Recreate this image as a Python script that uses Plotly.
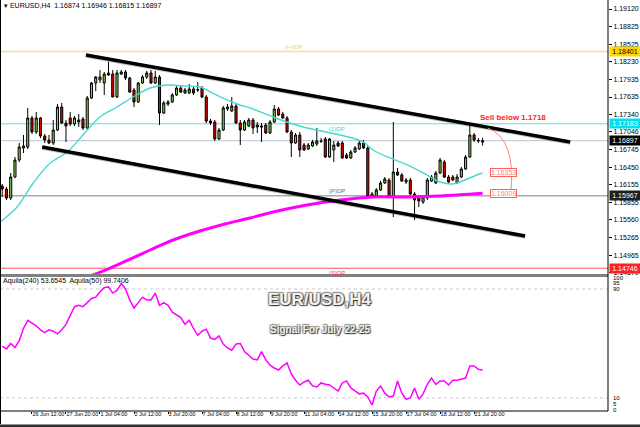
import plotly.graph_objects as go

W, H = 640, 427
def px(x): return x / W
def py(y): return 1 - y / H

# ---------------- data ----------------
bars = list(range(1, 115))
open_ = [1.16133,1.16082,1.15931,1.16285,1.16572,1.16775,1.16791,1.17281,1.17045,1.17281,
 1.16977,1.16910,1.16859,1.17078,1.17466,1.17196,1.17281,1.17180,1.17213,1.17264,
 1.17112,1.17618,1.17871,1.17922,1.17871,1.18040,1.18023,1.17635,1.18023,1.18057,
 1.17956,1.17753,1.17551,1.17871,1.17973,1.18040,1.17871,1.17973,1.17365,1.17517,
 1.17551,1.17669,1.17787,1.17703,1.17703,1.17770,1.17753,1.17787,1.17635,1.17230,
 1.17213,1.16926,1.17078,1.17433,1.17399,1.17483,1.17196,1.17078,1.17146,1.17247,
 1.17163,1.17146,1.17163,1.17028,1.17213,1.17433,1.17348,1.17281,1.17045,1.16859,
 1.16994,1.16825,1.16758,1.16808,1.16842,1.16893,1.16926,1.16623,1.16741,1.16859,
 1.16859,1.16656,1.16606,1.16707,1.16758,1.16859,1.16775,1.15947,1.15964,1.16066,
 1.16184,1.16234,1.15947,1.16369,1.16319,1.16201,1.16234,1.15998,1.15947,1.15863,
 1.15931,1.16217,1.16184,1.16352,1.16538,1.16285,1.16285,1.16184,1.16285,1.16420,
 1.16623,1.16994,1.16893,1.16874]
high_ = [1.16167,1.16116,1.16352,1.16623,1.16859,1.16994,1.17450,1.17315,1.17382,1.17298,
 1.17011,1.16994,1.17247,1.17517,1.17534,1.17247,1.17382,1.17315,1.17348,1.17298,
 1.17652,1.17888,1.17990,1.18091,1.18057,1.18226,1.18091,1.18091,1.18091,1.18091,
 1.17973,1.17787,1.17888,1.18006,1.18074,1.18091,1.18074,1.18006,1.17568,1.17585,
 1.17703,1.17821,1.17838,1.17787,1.17855,1.17804,1.17888,1.17821,1.17669,1.17264,
 1.17247,1.17112,1.17483,1.17517,1.17635,1.17517,1.17247,1.17247,1.17281,1.17281,
 1.17213,1.17196,1.17196,1.17247,1.17500,1.17466,1.17382,1.17315,1.17078,1.17028,
 1.17045,1.16859,1.16859,1.16910,1.17112,1.16943,1.16960,1.16943,1.16893,1.16893,
 1.16893,1.16690,1.16741,1.16808,1.16893,1.16910,1.16808,1.16032,1.16099,1.16217,
 1.16285,1.16268,1.17213,1.16437,1.16352,1.16268,1.16268,1.16032,1.15981,1.15964,
 1.16268,1.16319,1.16386,1.16606,1.16572,1.16319,1.16319,1.16336,1.16454,1.16656,
 1.17190,1.17028,1.16943,1.16946]
low_ = [1.15947,1.15897,1.15897,1.16268,1.16538,1.16690,1.16758,1.17011,1.17011,1.16943,
 1.16859,1.16842,1.16825,1.17061,1.17180,1.16876,1.17146,1.17146,1.17129,1.17078,
 1.17095,1.17601,1.17736,1.17871,1.17669,1.17990,1.17635,1.17618,1.18006,1.17922,
 1.17703,1.17466,1.17534,1.17855,1.17939,1.17855,1.17855,1.17163,1.17348,1.17483,
 1.17534,1.17652,1.17703,1.17686,1.17686,1.17669,1.17720,1.17618,1.17196,1.17163,
 1.16893,1.16910,1.17061,1.17399,1.17382,1.17180,1.16825,1.17061,1.17129,1.17011,
 1.17028,1.16876,1.17011,1.17011,1.17196,1.17315,1.17264,1.17028,1.16623,1.16842,
 1.16623,1.16724,1.16741,1.16791,1.16808,1.16859,1.16606,1.16606,1.16538,1.16791,
 1.16589,1.16589,1.16589,1.16690,1.16741,1.16758,1.15931,1.15931,1.15947,1.16049,
 1.16167,1.15931,1.15610,1.16302,1.16201,1.16167,1.15981,1.15559,1.15779,1.15830,
 1.15897,1.16201,1.16167,1.16336,1.16268,1.16184,1.16217,1.16167,1.16268,1.16403,
 1.16606,1.16876,1.16859,1.16815]
close_ = [1.16082,1.15931,1.16285,1.16572,1.16791,1.16808,1.17281,1.17045,1.17281,1.16977,
 1.16910,1.16859,1.17078,1.17466,1.17196,1.17146,1.17180,1.17281,1.17247,1.17112,
 1.17618,1.17871,1.17973,1.17973,1.18023,1.18006,1.17635,1.18040,1.18057,1.17956,
 1.17720,1.17551,1.17871,1.17973,1.18040,1.17871,1.17973,1.17365,1.17534,1.17551,
 1.17669,1.17787,1.17720,1.17753,1.17770,1.17703,1.17760,1.17635,1.17230,1.17196,
 1.16926,1.17078,1.17450,1.17466,1.17483,1.17196,1.17078,1.17213,1.17247,1.17112,
 1.17129,1.17129,1.17028,1.17213,1.17433,1.17331,1.17281,1.17045,1.16859,1.16994,
 1.16741,1.16741,1.16825,1.16876,1.16893,1.16885,1.16623,1.16926,1.16825,1.16808,
 1.16606,1.16606,1.16707,1.16775,1.16859,1.16775,1.15947,1.15998,1.16066,1.16184,
 1.16251,1.15947,1.16369,1.16319,1.16217,1.16234,1.15998,1.15897,1.15880,1.15947,
 1.16234,1.16285,1.16352,1.16572,1.16285,1.16201,1.16234,1.16285,1.16420,1.16623,
 1.16994,1.16910,1.16900,1.16897]

# fast moving average (cyan), read at sample bars
ma_fast_bar = [0.5,4.5,8.3,12.3,16.3,20,24,28,31.8,35.8,39.8,43.5,47.5,49.9,53.9,56.9,59.3,
               64.7,68.7,72.7,80.5,85.9,88.2,92.2,96.3,100.9,104,107,110.4,113.4,114]
ma_fast_val = [1.15526,1.15779,1.16184,1.16521,1.16707,1.16994,1.17298,1.17466,1.17635,1.17787,
               1.17838,1.17821,1.17804,1.17720,1.17585,1.17500,1.17450,1.17298,1.17196,1.17112,
               1.16994,1.16876,1.16741,1.16606,1.16488,1.16319,1.16201,1.16167,1.16251,1.16340,1.16353]
# slow moving average (magenta)
ma_slow_bar = [21.7,26.4,31.1,35.8,41.2,47.5,53.4,59.3,64.7,72.7,80.5,88.2,96.3,104,114]
ma_slow_val = [1.14615,1.14749,1.14901,1.15053,1.15222,1.15374,1.15492,1.15593,1.15694,1.15813,
               1.15897,1.15948,1.15948,1.15964,1.16009]

# oscillator Aquila(50)
osc = [48,46,50,47,52,61,67,65,63,60,58,60,59,57,60,64,71,77,78,77,
       80,83,84,88,91,91.5,87,89,94,90,82,76,80,84,82,82,87,78,80,78,
       73,71,69,64,67,61,56,59,60.5,54,53,55.5,49.6,46.7,45,49.6,50,44,41.5,38.6,
       38,44,38,34,32,30.5,33.5,35.7,27.6,23,19.5,21.7,23,18.8,18,21,20,19.5,17.3,15,
       21,22.5,17.3,15,13,13.5,10.7,4.8,15,18.8,13.5,10.7,11.4,22.5,13.5,9,10,17.3,9,13,
       20,24.6,20,22.5,22.5,19.5,23,23,24,24.6,33.5,33.5,31,30.5]

tick_bars = [0,8,16,24,32,40,48,56,64,72,80,88,96,104,112]
tick_text = ["25 Jun 2025","26 Jun 12:00","27 Jun 20:00","1 Jul 04:00","2 Jul 12:00",
             "3 Jul 20:00","7 Jul 04:00","8 Jul 12:00","9 Jul 20:00","11 Jul 04:00",
             "14 Jul 12:00","15 Jul 20:00","17 Jul 04:00","18 Jul 12:00","21 Jul 20:00"]
price_ticks = [1.19120,1.18825,1.18525,1.18230,1.17935,1.17635,1.17340,1.17046,
               1.16745,1.16450,1.16155,1.15855,1.15560,1.15265,1.14965,1.14670]

upper_channel_bar = [20.7, 134.6]
upper_channel_val = [1.18344, 1.16876]
lower_channel_bar = [10.4, 124.0]
lower_channel_val = [1.16791, 1.15289]

level_r = 1.18401
level_1 = 1.17183
bid = 1.16897
level_p = 1.15967
level_s = 1.14746
target_1 = 1.16353
target_2 = 1.16009

X0, X1 = 0.48, 143.5
Y0, Y1 = 1.14648, 1.19272

FONT = "Liberation Sans"

fig = go.Figure()

fig.add_trace(go.Candlestick(
    x=bars, open=open_, high=high_, low=low_, close=close_,
    increasing=dict(fillcolor="#80d050", line=dict(color="#000000", width=1)),
    decreasing=dict(fillcolor="#e00000", line=dict(color="#000000", width=1)),
    whiskerwidth=0, xaxis="x", yaxis="y", showlegend=False, hoverinfo="skip"))

fig.add_trace(go.Scatter(x=ma_fast_bar, y=ma_fast_val, mode="lines",
                         line=dict(color="#48d8d0", width=1.4, shape="spline"),
                         xaxis="x", yaxis="y", showlegend=False, hoverinfo="skip"))
fig.add_trace(go.Scatter(x=ma_slow_bar, y=ma_slow_val, mode="lines",
                         line=dict(color="#ff00ff", width=3, shape="spline"),
                         xaxis="x", yaxis="y", showlegend=False, hoverinfo="skip"))
for bx, by in [(upper_channel_bar, upper_channel_val), (lower_channel_bar, lower_channel_val)]:
    fig.add_trace(go.Scatter(x=bx, y=[v - 0.00012 for v in by], mode="lines",
                             line=dict(color="rgba(0,0,0,0.25)", width=4),
                             xaxis="x", yaxis="y", showlegend=False, hoverinfo="skip"))
    fig.add_trace(go.Scatter(x=bx, y=by, mode="lines",
                             line=dict(color="#000000", width=3.5),
                             xaxis="x", yaxis="y", showlegend=False, hoverinfo="skip"))

fig.add_trace(go.Scatter(x=bars, y=osc, mode="lines",
                         line=dict(color="#ff00ff", width=1.5),
                         xaxis="x2", yaxis="y2", showlegend=False, hoverinfo="skip"))

shapes = []
def hline(val, color, width=1, yref="y", dash="solid"):
    shapes.append(dict(type="line", xref="paper", yref=yref, x0=0, x1=px(608),
                       y0=val, y1=val, line=dict(color=color, width=width, dash=dash), layer="below"))

hline(level_r, "#f8e08a", 1.5)
hline(level_1, "#60e0e0", 1)
hline(bid, "#b8c4d0", 1)
hline(level_p, "#808080", 1)
hline(level_s, "#ff5050", 1)
hline(90, "#c8c8c8", 1, yref="y2", dash="dot")
hline(10, "#c8c8c8", 1, yref="y2", dash="dot")

# separator and frames
shapes.append(dict(type="line", xref="paper", yref="paper", x0=0, x1=px(608),
                   y0=py(275.5), y1=py(275.5), line=dict(color="#808080", width=3)))
shapes.append(dict(type="line", xref="paper", yref="paper", x0=px(608), x1=px(608),
                   y0=py(0), y1=py(411), line=dict(color="#000000", width=1)))
shapes.append(dict(type="line", xref="paper", yref="paper", x0=0, x1=px(608),
                   y0=py(411), y1=py(411), line=dict(color="#000000", width=1)))
shapes.append(dict(type="rect", xref="paper", yref="paper", x0=0, x1=1,
                   y0=0, y1=py(424.5), fillcolor="#303030", line=dict(width=0)))
shapes.append(dict(type="line", xref="paper", yref="paper", x0=px(0.5), x1=px(0.5),
                   y0=py(0), y1=py(424), line=dict(color="#000000", width=1)))

# projected path arrow
shapes.append(dict(type="path", xref="x", yref="y",
                   path=f"M 115.2,1.17112 Q 122.0,1.16930 120.6,{target_2 - 0.0002}",
                   line=dict(color="#ff8080", width=1)))

annotations = []
def ann(x, y, text, size=7, color="black", xanchor="left", yanchor="middle", **kw):
    d = dict(x=x, y=y, xref="paper", yref="paper", text=text, showarrow=False,
             xanchor=xanchor, yanchor=yanchor, font=dict(size=size, color=color, family=FONT))
    d.update(kw)
    annotations.append(d)

ann(px(2), py(5), "▾ EURUSD,H4  1.16874 1.16946 1.16815 1.16897", size=7)
ann(px(1), py(281), "Aquila(240) 53.6545  Aquila(50) 99.7406", size=7)

# price-axis highlighted labels
for val, bg, fg in [(level_r, "#ffd700", "#000000"), (level_1, "#00e0f0", "#ffffff"),
                    (bid, "#000000", "#ffffff"), (level_p, "#202020", "#ffffff"),
                    (level_s, "#ff2020", "#ffffff")]:
    annotations.append(dict(x=px(609), y=val, xref="paper", yref="y", text=f"{val:.5f}",
                            showarrow=False, xanchor="left", yanchor="middle",
                            bgcolor=bg, borderpad=0, width=30, height=9,
                            font=dict(size=7, color=fg, family=FONT)))

# level tags
annotations.append(dict(x=px(283), y=level_r, xref="paper", yref="y", text="(r+)DP",
                        showarrow=False, xanchor="left", yanchor="bottom",
                        font=dict(size=6, color="#f0d060", family=FONT)))
annotations.append(dict(x=px(327), y=level_1, xref="paper", yref="y", text="(1)DP",
                        showarrow=False, xanchor="left", yanchor="top",
                        font=dict(size=6, color="#40d0d0", family=FONT)))
annotations.append(dict(x=px(327), y=level_p, xref="paper", yref="y", text="(P)DP",
                        showarrow=False, xanchor="left", yanchor="bottom",
                        font=dict(size=6, color="#707070", family=FONT)))
annotations.append(dict(x=px(327), y=level_s, xref="paper", yref="y", text="(S)DP",
                        showarrow=False, xanchor="left", yanchor="top",
                        font=dict(size=6, color="#ff4040", family=FONT)))

# target boxes
for val in [target_1, target_2]:
    annotations.append(dict(x=px(490), y=val, xref="paper", yref="y", text=f"{val:.5f}",
                            showarrow=False, xanchor="left", yanchor="middle",
                            bgcolor="#ffffff", bordercolor="#ff6060", borderwidth=1, borderpad=0,
                            font=dict(size=7, color="#ff8080", family=FONT)))

ann(px(513), py(118), "<b>Sell below 1.1718</b>", size=8, color="#ff2020", xanchor="center")

ann(px(320), py(299), "<b>EUR/USD,H4</b>", size=17, color="#f2f2f2", xanchor="center")
annotations[-1]["font"]["shadow"] = "1px 1px 1px #303030, -1px -1px 1px #909090, 1px -1px 1px #909090, -1px 1px 1px #909090"
ann(px(320), py(329), "<b>Signal For July 22-25</b>", size=10, color="#f2f2f2", xanchor="center")
annotations[-1]["font"]["shadow"] = "1px 1px 1px #303030, -1px -1px 1px #909090, 1px -1px 1px #909090, -1px 1px 1px #909090"

# sub-window scale labels
for v, t in [(98.2, "100"), (94.5, "95"), (90, "90"), (10, "10"), (5.5, "5"), (1.5, "0")]:
    annotations.append(dict(x=px(611), y=v, xref="paper", yref="y2", text=t, showarrow=False,
                            xanchor="left", yanchor="middle",
                            font=dict(size=6, color="black", family=FONT)))

fig.update_layout(
    width=W, height=H, margin=dict(l=0, r=0, t=0, b=0),
    paper_bgcolor="white", plot_bgcolor="white", showlegend=False,
    shapes=shapes, annotations=annotations,
    xaxis=dict(domain=[0, px(608)], range=[X0, X1], showticklabels=False, showgrid=False,
               zeroline=False, anchor="y", rangeslider=dict(visible=False), fixedrange=True),
    yaxis=dict(domain=[py(274), 1], range=[Y0, Y1], side="right", anchor="x",
               tickvals=price_ticks, ticktext=[f"{v:.5f}" for v in price_ticks],
               ticks="outside", ticklen=3, tickcolor="black",
               tickfont=dict(size=7, color="black", family=FONT),
               showgrid=False, zeroline=False, showline=False, automargin=False),
    xaxis2=dict(domain=[0, px(608)], range=[X0, X1], anchor="y2",
                tickvals=tick_bars, ticktext=tick_text, ticks="outside", ticklen=2,
                tickcolor="black", ticklabelposition="outside right", ticklabelstandoff=-3,
                tickangle=0,
                tickfont=dict(size=5.5, color="black", family=FONT),
                showgrid=False, zeroline=False, showline=False, automargin=False),
    yaxis2=dict(domain=[py(411), py(277)], range=[0.4, 98.8], side="right", anchor="x2",
                showticklabels=False, ticks="", showgrid=False, zeroline=False, automargin=False),
)

fig.write_html("out.html", config=dict(displayModeBar=False),
               post_script="document.body.style.margin='0';document.body.style.overflow='hidden';")
